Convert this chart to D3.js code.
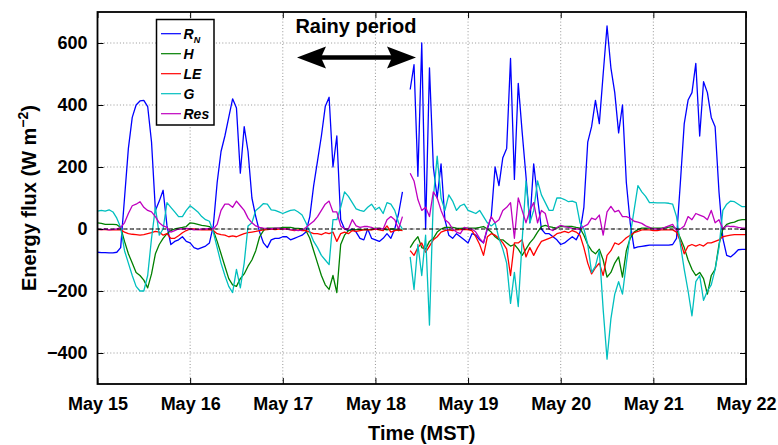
<!DOCTYPE html>
<html>
<head>
<meta charset="utf-8">
<script src="https://cdn.jsdelivr.net/npm/d3@7"></script>
<style>
  body { margin: 0; background: #fff; }
  svg { display: block; font-family: "Liberation Sans", Arial, Helvetica, sans-serif; }
</style>
</head>
<body>
<svg id="chart" width="778" height="445"></svg>
<script>
// Daily tick labels (midnight MST) and flux tick values
const dayTicks = ["May 15", "May 16", "May 17", "May 18", "May 19", "May 20", "May 21", "May 22"];
const yTickValues = [-400, -200, 0, 200, 400, 600];

// Legend entries and colours, in plotting order
const seriesNames = ["RN", "H", "LE", "G", "Res"];
const seriesColors = ["#0000ff", "#008000", "#ff0000", "#00bfbf", "#bf00bf"];

// Hourly fluxes (W m-2) from May 15 00:00 to May 22 00:00; null = missing record
const rn = [
  -75, -76, -76, -77, -77, -75, -60, 100, 260, 360, 400, 413, 415, 395, 280, 60, 90, 125, 10, -50, -40, -35, -25, -40,
  -45, -60, -65, -60, -55, -45, 10, 150, 250, 300, 360, 420, 390, 180, 330, 250, 100, 40, -10, -45, -60, -35, -30, -30,
  -25, -25, -35, -30, -25, -20, -10, 40, 140, 220, 300, 395, 425, 200, 300, 30, 0, -5, 0, -10, -30, -35, 0, -30,
  -35, -40, -30, -15, -30, 0, 50, 120, null, 450, 530, 170, 600, 0, 520, 200, 100, 210, 30, -20, -30, -15, -25, -35,
  -45, -15, -20, -35, -45, 0, 40, 200, 140, 230, 260, 550, 160, 470, 314, 170, 20, 210, 100, 0, -15, -15, -25, -35,
  -50, -45, -35, -25, -35, -10, 70, 280, 330, 415, 340, 500, 655, 520, 440, 310, 400, 150, 20, -62, -58, -56, -54, -52,
  -52, -52, -52, -52, -52, -50, -30, 150, 340, 416, 440, 534, 300, 475, 440, 360, 330, 120, -30, -85, -90, -80, -67, -66,
  -66
];
const h = [
  20, 18, 15, 15, 15, 14, 5, -40, -80, -110, -140, -150, -165, -190, -145, -80, -50, -30, -15, -5, 0, 3, 5, 8,
  20, 18, 15, 12, 10, 8, -5, -40, -80, -120, -160, -180, -185, -160, -145, -120, -100, -70, -25, -5, 3, 3, 3, 3,
  5, 5, 5, 3, 2, 0, -5, -30, -70, -110, -150, -180, -195, -150, -205, -50, -20, -5, -3, -2, -2, -2, -2, -2,
  3, 2, 0, -3, 0, 0, -5, -2, null, -60, -40, -25, -60, -65, -40, -30, -10, 0, 5, 5, 5, 3, 2, 3,
  3, 3, 3, 5, 8, 0, -10, -25, -35, -35, -45, -55, -50, -65, -85, -65, -45, -30, -10, 8, 12, 8, 5, 3,
  8, 8, 8, 8, 5, 3, -20, -50, -70, -80, -65, -100, -155, -140, -110, -90, -155, -70, -30, -10, -2, 3, 3, 3,
  3, 3, 3, 4, 6, 8, 0, -30, -60, -100, -130, -150, -140, -160, -210, -150, -130, -50, 0, 15, 20, 22, 28, 30,
  30
];
const le = [
  -2, -2, -2, -3, -3, -3, -3, -10, -15, -17, -18, -20, -18, -15, -12, -8, -10, -20, -15, -30, -30, -22, -12, -5,
  0, 0, -2, -3, -3, -2, -5, -15, -18, -20, -25, -22, -25, -20, -15, -12, -10, -8, -5, -3, -2, 0, -2, 0,
  0, 0, -3, -5, -3, -5, -5, -10, -15, -15, -18, -12, -15, -10, -40, -15, -10, -15, -5, -8, -5, -3, -3, -3,
  0, -3, -5, 10, -10, -5, -3, -5, null, -70, -85, -60, -45, -75, -55, -35, -25, -10, -5, -3, -5, -3, -2, -2,
  -2, -5, -25, -50, -85, -25, -15, -20, -30, -45, -65, -150, -45, -45, -35, -90, -60, -85, -60, -40, -35, -30, -25, -15,
  -12, -8, -12, -5, -10, -20, -60, -110, -145, -125, -110, -150, -85, -70, -45, -50, -40, -28, -20, -12, -8, -3, -3, -3,
  -5, -5, -3, -3, -3, -3, -10, -40, -80, -55, -50, -55, -50, -55, -45, -45, -40, -35, -25, -22, -20, -18, -18, -18,
  -18
];
const g = [
  58, 60, 58, 62, 55, 35, 5, -70, -110, -150, -185, -200, -200, -150, -30, 70, -20, 0, 85, 70, 55, 40, 40, 60,
  75, 65, 55, 40, 30, 25, -10, -60, -110, -150, -185, -205, -130, -190, -110, 10, 20, 60, 70, 82, 80, 62, 60, 55,
  50, 55, 60, 62, 55, 45, 20, -10, -40, -60, -85, -100, -115, 30, 30, 70, 120, 105, 85, 65, 60, 57, 70, 80,
  62, 70, 50, 85, 80, 60, 20, 0, null, -90, -195, -50, -150, -20, -310, 100, 235, 100, 60, 110, 90, 60, 75, 80,
  60, 55, 50, 60, 40, 20, 10, 20, -30, -65, -110, -240, -140, -250, -40, 155, 20, 60, 155, 110, 85, 60, 60, 100,
  100, 95, 88, 90, 85, 20, 0, -50, -140, -120, -70, -260, -420, -290, -210, -170, -210, -110, -20, 60, 140, 120, 105, 85,
  85, 84, 84, 84, 83, 80, 40, -50, -130, -200, -280, -170, -150, -230, -200, -180, -130, -60, 60, 80, 90, 88, 80, 72,
  72
];
const res = [
  0, -2, 0, -3, -1, 0, 5, 20, 50, 75, 80, 88, 70, 60, 55, 40, 20, 10, 5, -10, -5, 0, 0, 2,
  0, -3, -2, 0, 0, 2, 0, 15, 60, 80, 80, 70, 90, 75, 60, 35, 20, 10, 5, 3, 2, 0, 3, 3,
  0, 0, -2, -3, -5, -3, 5, 15, 25, 40, 60, 80, 90, 55, 55, 10, 0, 0, 30, 10, 5, 8, 8, 5,
  0, 3, 0, 30, 40, 30, 0, 40, null, 180, 155, 95, 60, 70, 40, 120, 100, 60, 30, 20, 0, -10, -15, 5,
  2, 0, -10, -30, -45, 5, 40, 20, 30, 60, 70, 85, -30, 100, 60, 20, 60, 85, 20, 60, 50, 0, -5, 5,
  12, 8, 5, 2, 0, 0, 8, 15, 35, 30, 45, -20, 55, 73, 55, 60, 40, 40, 35, 25, 22, 18, 10, 5,
  0, 0, 0, 5, 10, 15, -5, 0, 10, 40, 30, 50, 45, 40, 30, 60, 20, 30, 0, 10, 8, 8, 5, 3,
  3
];

const seriesValues = [rn, h, le, g, res];
const t0 = Date.UTC(2010, 4, 15);
const HOUR = 3600e3, DAY = 864e5;

const plot = { left: 97.5, right: 746, top: 12, bottom: 384 };
const svg = d3.select("#chart");

const x = d3.scaleUtc()
  .domain([new Date(t0), new Date(t0 + 7 * DAY)])
  .range([plot.left, plot.right]);
const y = d3.scaleLinear().domain([-500, 700]).range([plot.bottom, plot.top]);
const dayDates = dayTicks.map((_, i) => new Date(t0 + i * DAY));

// dotted grid
const grid = svg.append("g")
  .attr("stroke", "#8a8a8a").attr("stroke-width", 0.9).attr("stroke-dasharray", "1,2.2");
grid.selectAll("line.gv").data(dayDates.slice(1, -1)).join("line").attr("class", "gv")
  .attr("x1", d => x(d)).attr("x2", d => x(d)).attr("y1", plot.top).attr("y2", plot.bottom);
grid.selectAll("line.gh").data(yTickValues).join("line").attr("class", "gh")
  .attr("x1", plot.left).attr("x2", plot.right).attr("y1", d => y(d)).attr("y2", d => y(d));

// data lines, clipped to the axes box
svg.append("clipPath").attr("id", "plotClip").append("rect")
  .attr("x", plot.left).attr("y", plot.top)
  .attr("width", plot.right - plot.left).attr("height", plot.bottom - plot.top);

const line = d3.line()
  .defined(d => d.v !== null)
  .x(d => x(d.t)).y(d => y(d.v));

const lines = svg.append("g").attr("clip-path", "url(#plotClip)");
seriesValues.forEach((vals, k) => {
  const pts = vals.map((v, i) => ({ t: new Date(t0 + i * HOUR), v }));
  lines.append("path").datum(pts)
    .attr("fill", "none")
    .attr("stroke", seriesColors[k])
    .attr("stroke-width", 1.3)
    .attr("stroke-linejoin", "round")
    .attr("d", line);
});

// zero reference line
svg.append("line")
  .attr("x1", plot.left).attr("x2", plot.right)
  .attr("y1", y(0)).attr("y2", y(0))
  .attr("stroke", "#000").attr("stroke-width", 1.1)
  .attr("stroke-dasharray", "4,2.5");

// axes with inward ticks on all four sides
function styleAxis(sel) {
  sel.select(".domain").remove();
  sel.attr("font-family", null).attr("font-size", null);
  sel.selectAll(".tick line").attr("stroke", "#000").attr("stroke-width", 1);
  sel.selectAll(".tick text")
    .attr("fill", "#000")
    .style("font", "bold 18px 'Liberation Sans', Arial, sans-serif");
}
svg.append("g").attr("transform", `translate(${plot.left},0)`)
  .call(d3.axisLeft(y).tickValues(yTickValues).tickSizeInner(-6).tickSizeOuter(0)
    .tickPadding(10).tickFormat(d3.format("d")))
  .call(styleAxis);
svg.append("g").attr("transform", `translate(${plot.right},0)`)
  .call(d3.axisRight(y).tickValues(yTickValues).tickSizeInner(-6).tickSizeOuter(0).tickFormat(""))
  .call(styleAxis);
svg.append("g").attr("transform", `translate(0,${plot.bottom})`)
  .call(d3.axisBottom(x).tickValues(dayDates).tickSizeInner(-6).tickSizeOuter(0)
    .tickPadding(13).tickFormat((d, i) => dayTicks[i]))
  .call(styleAxis);
svg.append("g").attr("transform", `translate(0,${plot.top})`)
  .call(d3.axisTop(x).tickValues(dayDates).tickSizeInner(-6).tickSizeOuter(0).tickFormat(""))
  .call(styleAxis);

// axes box
svg.append("rect")
  .attr("x", plot.left).attr("y", plot.top)
  .attr("width", plot.right - plot.left).attr("height", plot.bottom - plot.top)
  .attr("fill", "none").attr("stroke", "#000").attr("stroke-width", 1.8);

// axis titles
svg.append("text")
  .attr("x", (plot.left + plot.right) / 2).attr("y", 440)
  .attr("text-anchor", "middle")
  .style("font", "bold 20px 'Liberation Sans', Arial, sans-serif")
  .text("Time (MST)");

const yTitle = svg.append("text")
  .attr("transform", `translate(36,${(plot.top + plot.bottom) / 2}) rotate(-90)`)
  .attr("text-anchor", "middle")
  .style("font", "bold 20px 'Liberation Sans', Arial, sans-serif");
yTitle.append("tspan").text("Energy flux (W m");
yTitle.append("tspan").attr("dy", -8).style("font-size", "14px").text("\u22122");
yTitle.append("tspan").attr("dy", 8).text(")");

// rainy-period annotation
svg.append("text")
  .attr("x", 356).attr("y", 33)
  .attr("text-anchor", "middle")
  .style("font", "bold 20px 'Liberation Sans', Arial, sans-serif")
  .text("Rainy period");

const arrowY = 57.5;
const arrowL = 297, arrowR = 416, headLen = 29, headHalf = 11, notch = 5;
svg.append("line")
  .attr("x1", arrowL + headLen - notch).attr("x2", arrowR - headLen + notch)
  .attr("y1", arrowY).attr("y2", arrowY)
  .attr("stroke", "#000").attr("stroke-width", 4.5);
const head = d3.path();
head.moveTo(arrowL, arrowY);
head.lineTo(arrowL + headLen, arrowY - headHalf);
head.lineTo(arrowL + headLen - notch, arrowY);
head.lineTo(arrowL + headLen, arrowY + headHalf);
head.closePath();
head.moveTo(arrowR, arrowY);
head.lineTo(arrowR - headLen, arrowY - headHalf);
head.lineTo(arrowR - headLen + notch, arrowY);
head.lineTo(arrowR - headLen, arrowY + headHalf);
head.closePath();
svg.append("path").attr("d", head.toString()).attr("fill", "#000");

// legend
const legend = svg.append("g");
legend.append("rect")
  .attr("x", 156.5).attr("y", 19.5).attr("width", 57.5).attr("height", 105.5)
  .attr("fill", "#fff").attr("stroke", "#000").attr("stroke-width", 1.5);
seriesNames.forEach((name, k) => {
  const ly = 33.7 + k * 20;
  legend.append("line")
    .attr("x1", 161).attr("x2", 181).attr("y1", ly).attr("y2", ly)
    .attr("stroke", seriesColors[k]).attr("stroke-width", 1.2);
  const t = legend.append("text")
    .attr("x", 183.5).attr("y", ly + 5)
    .style("font", "italic bold 14px 'Liberation Sans', Arial, sans-serif");
  if (name === "RN") {
    t.append("tspan").text("R");
    t.append("tspan").attr("dy", 4).style("font-size", "9px").text("N");
  } else {
    t.text(name);
  }
});
</script>
</body>
</html>
